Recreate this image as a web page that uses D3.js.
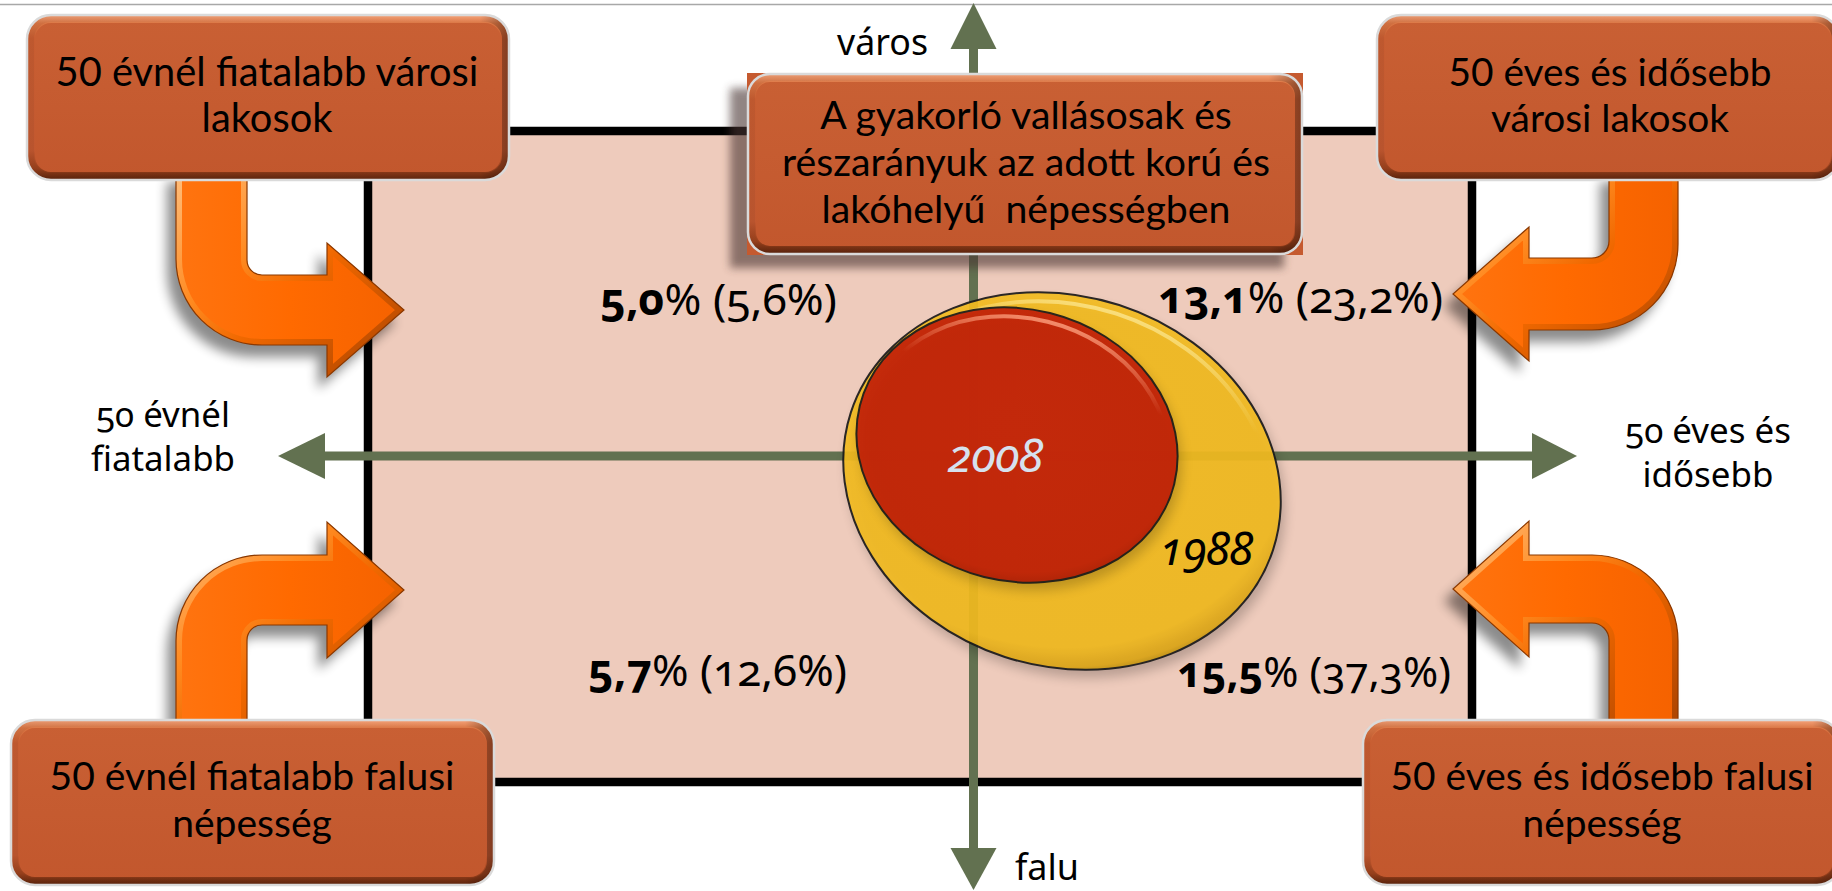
<!DOCTYPE html>
<html><head><meta charset="utf-8">
<script src="https://cdn.jsdelivr.net/npm/d3@7"></script>
<style>
html,body{margin:0;padding:0;background:#fff;overflow:hidden}
svg{display:block}
</style></head>
<body>
<svg id="chart" width="1832" height="891"></svg>
<script>
// ---------------- DATA ----------------
const quadrants = ["fiatal_varos", "idos_varos", "fiatal_falu", "idos_falu"];
const share2008 = [5.0, 13.1, 5.7, 15.5];
const share1988 = [5.6, 23.2, 12.6, 37.3];
const groupLabels = [
  ["50 évnél fiatalabb városi", "lakosok"],
  ["50 éves és idősebb", "városi lakosok"],
  ["50 évnél fiatalabb falusi", "népesség"],
  ["50 éves és idősebb falusi", "népesség"]
];
const titleLines = ["A gyakorló vallásosak és", "részarányuk az adott korú és", "lakóhelyű  népességben"];
const ageAxisLabels = [["50 évnél", "fiatalabb"], ["50 éves és", "idősebb"]];
const placeAxisLabels = ["város", "falu"];
const years = ["1988", "2008"];

// ---------------- LAYOUT ----------------
const svg = d3.select("#chart");
const defs = svg.append("defs");
const fmt = v => d3.format(".1f")(v).replace(".", ",");

// axis coordinate system (-1..1 each way, 0 = crossing point)
const sx = d3.scaleLinear().domain([-1, 0, 1]).range([278, 973.5, 1577]);
const sy = d3.scaleLinear().domain([-1, 0, 1]).range([890, 456, 3]);
const AX = "#627150";

function blurFilter(id, sd) {
  defs.append("filter").attr("id", id).attr("x", "-30%").attr("y", "-30%")
    .attr("width", "160%").attr("height", "160%")
    .append("feGaussianBlur").attr("stdDeviation", sd);
}
blurFilter("blur6", 6); blurFilter("blur4", 4);

function linGrad(id, x1, y1, x2, y2, stops) {
  const g = defs.append("linearGradient").attr("id", id)
    .attr("x1", x1).attr("y1", y1).attr("x2", x2).attr("y2", y2);
  stops.forEach(s => g.append("stop").attr("offset", s[0]).attr("stop-color", s[1]).attr("stop-opacity", s[2] == null ? 1 : s[2]));
}
function radGrad(id, cx, cy, r, stops) {
  const g = defs.append("radialGradient").attr("id", id).attr("cx", cx).attr("cy", cy).attr("r", r);
  stops.forEach(s => g.append("stop").attr("offset", s[0]).attr("stop-color", s[1]).attr("stop-opacity", s[2] == null ? 1 : s[2]));
}
linGrad("boxFill", 0, 0, 0, 1, [[0, "#C96034"], [1, "#C2572D"]]);
linGrad("boxRim", 0, 0, 0, 1, [[0, "#F6A57C"], [0.05, "#DA7644"], [0.14, "#C85D31"], [0.82, "#C25830"], [0.93, "#9C421D"], [1, "#5A230C"]]);
linGrad("boxSide", 0, 0, 1, 0, [[0, "#000", 0.05], [0.94, "#000", 0], [1, "#000", 0.35]]);
linGrad("arrowRim", 0, 0, 1, 1, [[0, "#FFC080"], [0.35, "#FF8A20"], [0.55, "#F06800"], [1, "#A94200"]]);
linGrad("arrowFill", 0, 0, 1, 0, [[0, "#FF7410"], [0.5, "#FF6A00"], [1, "#F56200"]]);
radGrad("yelFill", 0.42, 0.4, 0.64, [[0, "#F4BD20"], [0.88, "#F2BB20"], [0.96, "#DDA618"], [1, "#A98110"]]);
radGrad("redFill", 0.48, 0.45, 0.6, [[0, "#C4200A"], [0.86, "#C11F08"], [0.95, "#A81A06"], [1, "#7E1505"]]);
linGrad("gloss", 0, 0, 0, 1, [[0, "#FF9A80", 0.85], [0.25, "#FF9A80", 0], [1, "#FF9A80", 0]]);
linGrad("glossY", 0, 0, 0, 1, [[0, "#FFE680", 0.9], [0.2, "#FFE680", 0], [1, "#FFE680", 0]]);

// top hairline
svg.append("line").attr("x1", 0).attr("x2", 1832).attr("y1", 4.5).attr("y2", 4.5)
  .attr("stroke", "#A8A8A8").attr("stroke-width", 1.5);

// quadrant frame
const frame = {x0: 368, x1: 1472, y0: 131, y1: 782};
svg.append("rect").attr("x", frame.x0).attr("y", frame.y0)
  .attr("width", frame.x1 - frame.x0).attr("height", frame.y1 - frame.y0)
  .attr("fill", "#EECBBC").attr("stroke", "#000").attr("stroke-width", 8.5);

// axes
const axG = svg.append("g");
axG.append("line").attr("x1", sx(-1) + 46).attr("x2", sx(1) - 45).attr("y1", sy(0)).attr("y2", sy(0))
  .attr("stroke", AX).attr("stroke-width", 9);
axG.append("line").attr("x1", sx(0)).attr("x2", sx(0)).attr("y1", sy(1) + 46).attr("y2", sy(-1) - 42)
  .attr("stroke", AX).attr("stroke-width", 9);
const heads = [
  [[sx(-1), sy(0)], [sx(-1) + 47, sy(0) - 23], [sx(-1) + 47, sy(0) + 23]],
  [[sx(1), sy(0)], [sx(1) - 45, sy(0) - 23], [sx(1) - 45, sy(0) + 23]],
  [[sx(0), sy(1)], [sx(0) - 23, sy(1) + 46], [sx(0) + 23, sy(1) + 46]],
  [[sx(0), sy(-1)], [sx(0) - 23, sy(-1) - 42], [sx(0) + 23, sy(-1) - 42]]
];
axG.selectAll("path.head").data(heads).join("path").attr("class", "head")
  .attr("d", d => d3.line()(d) + "Z").attr("fill", AX);

// ellipses (2008 inside 1988)
const ellGeom = {
  "1988": {cx: 1062, cy: 481, rx: 222, ry: 185, rot: 18, fill: "url(#yelFill)", gloss: "url(#glossY)"},
  "2008": {cx: 1017, cy: 445, rx: 162, ry: 136, rot: 14, fill: "url(#redFill)", gloss: "url(#gloss)"}
};
const ellG = svg.append("g");
years.forEach(yr => {
  const e = ellGeom[yr];
  ellG.append("ellipse").attr("cx", e.cx + 4).attr("cy", e.cy + 8).attr("rx", e.rx).attr("ry", e.ry)
    .attr("transform", `rotate(${e.rot},${e.cx + 4},${e.cy + 8})`)
    .attr("fill", "#000").attr("opacity", yr === "1988" ? 0.22 : 0.2).attr("filter", "url(#blur6)");
  const g = ellG.append("g").attr("opacity", 0.92)
    .attr("transform", `rotate(${e.rot},${e.cx},${e.cy})`);
  g.append("ellipse").attr("cx", e.cx).attr("cy", e.cy).attr("rx", e.rx).attr("ry", e.ry)
    .attr("fill", e.fill);
  g.append("ellipse").attr("cx", e.cx).attr("cy", e.cy).attr("rx", e.rx - 9).attr("ry", e.ry - 9)
    .attr("fill", "none").attr("stroke", e.gloss).attr("stroke-width", 4);
  g.append("ellipse").attr("cx", e.cx).attr("cy", e.cy).attr("rx", e.rx).attr("ry", e.ry)
    .attr("fill", "none").attr("stroke", "#1A1A1A").attr("stroke-width", 2);
});

// fit helper: scales font size so the widest element reaches the target width
function fitBlock(parts, target, sizeHolder) {
  let maxW = 0;
  parts.forEach(t => { maxW = Math.max(maxW, t.node().getComputedTextLength()); });
  const h = sizeHolder || parts[0];
  const fs = parseFloat(h.attr("font-size"));
  h.attr("font-size", fs * target / maxW);
}

// year labels
const yearPos = {"1988": {x: 1160, y: 565, w: 93, fill: "#000"}, "2008": {x: 948, y: 472, w: 95, fill: "#D6E1EE"}};
years.forEach(yr => {
  const p = yearPos[yr];
  const t = svg.append("text").attr("x", p.x).attr("y", p.y).text(yr)
    .attr("font-family", "Noto Sans").attr("font-style", "italic").attr("font-size", 36)
    .style("font-variant-numeric", "oldstyle-nums").attr("fill", p.fill);
  fitBlock([t], p.w);
});

// boxes
function box(g, b, shadow) {
  const id = "clip" + Math.round(b.x) + "_" + Math.round(b.y);
  defs.append("clipPath").attr("id", id).append("rect")
    .attr("x", b.x).attr("y", b.y).attr("width", b.w).attr("height", b.h).attr("rx", b.r);
  if (shadow) {
    g.append("rect").attr("x", b.x - 18).attr("y", b.y + 14).attr("width", b.w).attr("height", b.h)
      .attr("fill", "#4A3630").attr("opacity", 0.6).attr("filter", "url(#blur4)");
    g.append("rect").attr("x", b.x - 1).attr("y", b.y - 1).attr("width", b.w + 2).attr("height", b.h + 2)
      .attr("fill", "#C55A2F");
  }
  g.append("rect").attr("x", b.x).attr("y", b.y).attr("width", b.w).attr("height", b.h).attr("rx", b.r)
    .attr("fill", "url(#boxFill)");
  g.append("rect").attr("x", b.x).attr("y", b.y).attr("width", b.w).attr("height", b.h).attr("rx", b.r)
    .attr("fill", "none").attr("stroke", "url(#boxRim)").attr("stroke-width", 16).attr("clip-path", `url(#${id})`);
  g.append("rect").attr("x", b.x).attr("y", b.y).attr("width", b.w).attr("height", b.h).attr("rx", b.r)
    .attr("fill", "none").attr("stroke", "url(#boxSide)").attr("stroke-width", 14).attr("clip-path", `url(#${id})`);
  g.append("rect").attr("x", b.x).attr("y", b.y).attr("width", b.w).attr("height", b.h).attr("rx", b.r)
    .attr("fill", "none").attr("stroke", "#DADADA").attr("stroke-width", 2.5);
  const t = g.append("text").attr("text-anchor", "middle").attr("font-family", "Lato")
    .attr("font-size", 36).style("white-space", "pre").attr("fill", "#000");
  const spans = b.lines.map((ln, i) => t.append("tspan").attr("x", b.cx).attr("y", b.base[i]).text(ln));
  fitBlock(spans, b.fitW, t);
}
const titleG = svg.append("g");
box(titleG, {x: 748, y: 74, w: 554, h: 180, r: 22, cx: 1026, lines: titleLines, base: [129, 176, 223], fitW: 488}, true);

// percentage labels: bold = 2008, in brackets = 1988
const pctPos = [{x: 600, y: 315, w: 237}, {x: 1158, y: 313, w: 285}, {x: 588, y: 686, w: 259}, {x: 1177, y: 687, w: 274}];
quadrants.forEach((q, i) => {
  const p = pctPos[i];
  const t = svg.append("text").attr("x", p.x).attr("y", p.y)
    .attr("font-family", "Noto Sans").attr("font-size", 34).attr("fill", "#000")
    .style("font-variant-numeric", "oldstyle-nums");
  t.append("tspan").attr("font-weight", "bold").text(fmt(share2008[i]));
  t.append("tspan").text("% (" + fmt(share1988[i]) + "%)");
  fitBlock([t], p.w);
});

// axis labels
const lblFont = t => t.attr("font-family", "Noto Sans").attr("font-size", 32).attr("fill", "#000")
  .style("font-variant-numeric", "oldstyle-nums");
const ageLblPos = [{cx: 163, base: [427, 471], w: 144}, {cx: 1708, base: [443, 487], w: 166}];
ageAxisLabels.forEach((lines, i) => {
  const p = ageLblPos[i];
  const t = lblFont(svg.append("text").attr("text-anchor", "middle"));
  const spans = lines.map((ln, j) => t.append("tspan").attr("x", p.cx).attr("y", p.base[j]).text(ln));
  fitBlock(spans, p.w, t);
});
const placeLblPos = [{x: 928, y: 55, anchor: "end", w: 91}, {x: 1015, y: 880, anchor: "start", w: 64}];
placeAxisLabels.forEach((lb, i) => {
  const p = placeLblPos[i];
  const t = lblFont(svg.append("text").attr("x", p.x).attr("y", p.y).attr("text-anchor", p.anchor).text(lb));
  fitBlock([t], p.w);
});

// bent arrows
const arrows = [
  {sx: 1, sy: 1, outerX: 176, innerX: 247, ys: 170, outerY: 345, innerY: 275, hb: 327, tip: 404, tipY: 310, hh: 67},
  {sx: -1, sy: 1, outerX: 1678, innerX: 1609, ys: 170, outerY: 330, innerY: 258, hb: 1529, tip: 1453, tipY: 294, hh: 67},
  {sx: 1, sy: -1, outerX: 176, innerX: 247, ys: 730, outerY: 555, innerY: 625, hb: 327, tip: 404, tipY: 590, hh: 68},
  {sx: -1, sy: -1, outerX: 1678, innerX: 1609, ys: 730, outerY: 555, innerY: 623, hb: 1529, tip: 1453, tipY: 589, hh: 68}
];
function arrowPath(a) {
  const Ro = 86, ri = Ro - Math.abs(a.outerX - a.innerX);
  const p = d3.path();
  p.moveTo(a.outerX, a.ys);
  p.arcTo(a.outerX, a.outerY, a.hb, a.outerY, Ro);
  p.lineTo(a.hb, a.outerY);
  p.lineTo(a.hb, a.tipY + a.sy * a.hh);
  p.lineTo(a.tip, a.tipY);
  p.lineTo(a.hb, a.tipY - a.sy * a.hh);
  p.lineTo(a.hb, a.innerY);
  p.arcTo(a.innerX, a.innerY, a.innerX, a.ys, ri);
  p.lineTo(a.innerX, a.ys);
  p.closePath();
  return p.toString();
}
const arrG = svg.append("g");
arrows.forEach((a, i) => {
  const d = arrowPath(a);
  const id = "aclip" + i;
  defs.append("clipPath").attr("id", id).append("path").attr("d", d);
  arrG.append("path").attr("d", d).attr("transform", "translate(-9,12)")
    .attr("fill", "#000").attr("opacity", 0.45).attr("filter", "url(#blur6)");
  arrG.append("path").attr("d", d).attr("fill", "url(#arrowFill)");
  arrG.append("path").attr("d", d).attr("fill", "none").attr("stroke", "url(#arrowRim)")
    .attr("stroke-width", 12).attr("clip-path", `url(#${id})`);
  arrG.append("path").attr("d", d).attr("fill", "none").attr("stroke", "#8A3800").attr("stroke-width", 1.2);
});

// corner boxes
const boxLayout = [
  {x: 27, y: 15, w: 482, h: 165, r: 24, cx: 267, base: [86, 132], fitW: 423},
  {x: 1377, y: 15, w: 462, h: 165, r: 24, cx: 1610, base: [86, 132], fitW: 323},
  {x: 11, y: 720, w: 483, h: 165, r: 24, cx: 252, base: [790, 837], fitW: 405},
  {x: 1363, y: 720, w: 478, h: 165, r: 24, cx: 1602, base: [790, 837], fitW: 423}
];
const boxG = svg.append("g");
groupLabels.forEach((lines, i) => box(boxG.append("g"), Object.assign({lines}, boxLayout[i]), false));
</script>
</body></html>
